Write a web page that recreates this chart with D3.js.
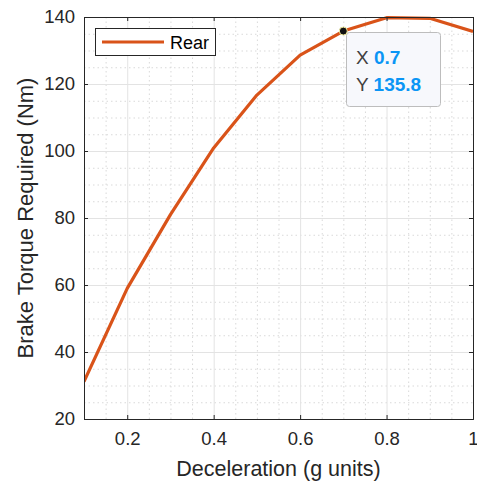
<!DOCTYPE html>
<html><head><meta charset="utf-8">
<script src="https://cdn.jsdelivr.net/npm/d3@7"></script>
<style>body{margin:0;background:#fff}svg{display:block}text{font-family:"Liberation Sans",Arial,sans-serif}</style>
</head><body>
<svg id="c" width="477" height="481"></svg>
<script>
const deceleration = [0.1,0.2,0.3,0.4,0.5,0.6,0.7,0.8,0.9,1.0];
const torqueRear = [31.2,59.0,81.0,100.9,116.7,128.6,135.8,139.8,139.6,135.7];
const xTicks = [0.2,0.4,0.6,0.8,1];
const yTicks = [20,40,60,80,100,120,140];
const seriesName = "Rear";
const tipX = 0.7, tipY = 135.8;

const svg = d3.select("#c");
const L=84, R=473, T=17, B=419;
const x = d3.scaleLinear().domain([0.1,1]).range([L,R]);
const y = d3.scaleLinear().domain([20,140]).range([B,T]);
const ink="#262626";

// minor grid
const xMinor = d3.range(0.15,1.0001,0.05).map(v=>+v.toFixed(2)).filter(v=>!xTicks.some(t=>Math.abs(t-v)<1e-6));
const yMinor = d3.range(25,140,5).filter(v=>v%20!==0);
const g = svg.append("g");
g.selectAll(".xm").data(xMinor).join("line").attr("x1",d=>x(d)+0.5).attr("x2",d=>x(d)+0.5).attr("y1",T).attr("y2",B)
 .attr("stroke","#d9d9d9").attr("stroke-dasharray","1.5,3").attr("stroke-width",1);
g.selectAll(".ym").data(yMinor).join("line").attr("y1",d=>y(d)+0.5).attr("y2",d=>y(d)+0.5).attr("x1",L).attr("x2",R)
 .attr("stroke","#d9d9d9").attr("stroke-dasharray","1.5,3").attr("stroke-width",1);
// major grid
g.selectAll(".xg").data(xTicks).join("line").attr("x1",d=>x(d)+0.5).attr("x2",d=>x(d)+0.5).attr("y1",T).attr("y2",B)
 .attr("stroke","#e3e3e3").attr("stroke-width",1);
g.selectAll(".yg").data(yTicks).join("line").attr("y1",d=>y(d)+0.5).attr("y2",d=>y(d)+0.5).attr("x1",L).attr("x2",R)
 .attr("stroke","#e3e3e3").attr("stroke-width",1);

// line
svg.append("defs").append("clipPath").attr("id","clip").append("rect").attr("x",L).attr("y",T-2).attr("width",R-L).attr("height",B-T+2);
svg.append("path").datum(deceleration.map((d,i)=>[d,torqueRear[i]]))
 .attr("clip-path","url(#clip)")
 .attr("d",d3.line().x(d=>x(d[0])).y(d=>y(d[1])))
 .attr("fill","none").attr("stroke","#D95319").attr("stroke-width",3.2).attr("stroke-linejoin","round");

// axes
const xa = svg.append("g").attr("transform",`translate(0,${B})`)
 .call(d3.axisBottom(x).tickValues(xTicks).tickSize(-4).tickPadding(13).tickFormat(d=>d===1?"1":d3.format(".1f")(d)));
const xa2 = svg.append("g").attr("transform",`translate(0,${T})`)
 .call(d3.axisTop(x).tickValues(xTicks).tickSize(-4).tickFormat(""));
const ya = svg.append("g").attr("transform",`translate(${L},0)`)
 .call(d3.axisLeft(y).tickValues(yTicks).tickSize(-4).tickPadding(9));
const ya2 = svg.append("g").attr("transform",`translate(${R},0)`)
 .call(d3.axisRight(y).tickValues(yTicks).tickSize(-4).tickFormat(""));
[xa,xa2,ya,ya2].forEach(a=>{
  a.select(".domain").attr("stroke",ink).attr("stroke-width",1);
  a.selectAll(".tick line").attr("stroke",ink);
  a.selectAll("text").attr("fill",ink).style("font-size","18.5px").style("font-family","'Liberation Sans',Arial,sans-serif");
});
ya.selectAll("text").attr("dy","0.3em");

// labels
svg.append("text").attr("x",(L+R)/2).attr("y",476).attr("text-anchor","middle").attr("fill",ink)
 .style("font-size","21.5px").text("Deceleration (g units)");
svg.append("text").attr("transform",`translate(33,${(T+B)/2}) rotate(-90)`).attr("text-anchor","middle").attr("fill",ink)
 .style("font-size","22px").text("Brake Torque Required (Nm)");

// legend
const lg = svg.append("g");
lg.append("rect").attr("x",95.5).attr("y",28.5).attr("width",120).attr("height",27).attr("fill","#fff").attr("stroke",ink).attr("stroke-width",1);
lg.append("line").attr("x1",102).attr("x2",164).attr("y1",42).attr("y2",42).attr("stroke","#D95319").attr("stroke-width",3.2);
lg.append("text").attr("x",170).attr("y",48.5).attr("fill","#000").style("font-size","18px").text(seriesName);

// datatip
const tip = svg.append("g");
tip.append("rect").attr("x",346.5).attr("y",32.5).attr("width",94).attr("height",74).attr("rx",3)
 .attr("fill","#f7f8fc").attr("stroke","#bdbdbd").attr("stroke-width",1);
tip.append("circle").attr("cx",x(tipX)).attr("cy",y(tipY)).attr("r",4).attr("fill","#111").attr("stroke","#f5f0a0").attr("stroke-width",1);
const t1 = tip.append("text").attr("x",356).attr("y",64).style("font-size","19px");
t1.append("tspan").attr("fill","#404040").text("X ");
t1.append("tspan").attr("fill","#0a95f5").attr("font-weight","bold").text(tipX);
const t2 = tip.append("text").attr("x",356).attr("y",91).style("font-size","19px");
t2.append("tspan").attr("fill","#404040").text("Y ");
t2.append("tspan").attr("fill","#0a95f5").attr("font-weight","bold").text(tipY.toFixed(1));
</script>
</body></html>
